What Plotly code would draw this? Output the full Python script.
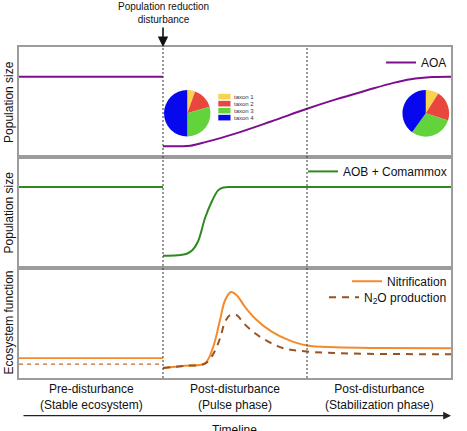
import plotly.graph_objects as go
from plotly.subplots import make_subplots

# phase boundaries on the timeline (0..3)
phase_edges = [1, 2]
phase_labels = [
    "Pre-disturbance<br>(Stable ecosystem)",
    "Post-disturbance<br>(Pulse phase)",
    "Post-disturbance<br>(Stabilization phase)",
]
phase_centers = [0.5, 1.5, 2.5]

# AOA population (top panel)
aoa_pre_x = [0, 1]
aoa_pre_y = [0.73, 0.73]
aoa_post_x = [1, 1.12, 1.19, 1.3, 1.49, 1.75, 2.0, 2.2, 2.41, 2.6, 2.72, 2.87, 3]
aoa_post_y = [0.1, 0.1, 0.105, 0.14, 0.21, 0.325, 0.44, 0.525, 0.605, 0.675, 0.708, 0.727, 0.73]

# AOB + comammox population (middle panel)
aob_pre_x = [0, 1]
aob_pre_y = [0.73, 0.73]
aob_post_x = [1, 1.1, 1.165, 1.205, 1.243, 1.292, 1.338, 1.384, 1.419, 1.45, 1.6, 3]
aob_post_y = [0.108, 0.112, 0.126, 0.16, 0.237, 0.45, 0.597, 0.703, 0.727, 0.73, 0.73, 0.73]

# ecosystem function (bottom panel)
nit_pre_x = [0, 1]
nit_pre_y = [0.18, 0.18]
nit_post_x = [1, 1.15, 1.292, 1.349, 1.396, 1.431, 1.472, 1.512, 1.569, 1.639, 1.755, 1.87, 2.0, 2.2, 2.5, 3]
nit_post_y = [0.09, 0.11, 0.135, 0.285, 0.525, 0.705, 0.78, 0.75, 0.645, 0.54, 0.42, 0.345, 0.294, 0.278, 0.272, 0.27]

n2o_pre_x = [0, 1]
n2o_pre_y = [0.126, 0.126]
n2o_post_x = [1, 1.15, 1.292, 1.35, 1.396, 1.431, 1.465, 1.512, 1.558, 1.639, 1.731, 1.836, 2.0, 2.3, 3]
n2o_post_y = [0.09, 0.11, 0.13, 0.22, 0.36, 0.51, 0.57, 0.57, 0.5, 0.405, 0.33, 0.27, 0.24, 0.222, 0.216]

# community composition pies
taxa = ["taxon 1", "taxon 2", "taxon 3", "taxon 4"]
pulse_share = [5.5, 15, 29.5, 50]
stable_share = [9, 21, 30, 40]
taxa_colors = ["#f7d34e", "#e9473d", "#63d33c", "#0808ef"]

FONT = "Liberation Sans, Arial, sans-serif"
W, H = 467, 431
# plot area in pixels
PL, PR, PT, PB = 19, 451, 47, 378.3
L, R, T, B = PL, W - PR, PT, H - PB

def px_x(p):
    return (p - PL) / (PR - PL)

def px_y(p):
    return (PB - p) / (PB - PT)

fig = make_subplots(rows=3, cols=1, shared_xaxes=True, vertical_spacing=0)

purple = "#7d0f8e"
green = "#2e8a1f"
orange = "#f38b2c"
brown = "#9a5221"

fig.add_trace(go.Scatter(x=aoa_pre_x, y=aoa_pre_y, mode="lines", line=dict(color=purple, width=2),
                         showlegend=False), row=1, col=1)
fig.add_trace(go.Scatter(x=aoa_post_x, y=aoa_post_y, mode="lines", name="AOA",
                         line=dict(color=purple, width=2, shape="spline"), legend="legend"), row=1, col=1)

fig.add_trace(go.Scatter(x=aob_pre_x, y=aob_pre_y, mode="lines", line=dict(color=green, width=2),
                         showlegend=False), row=2, col=1)
fig.add_trace(go.Scatter(x=aob_post_x, y=aob_post_y, mode="lines", name="AOB + Comammox",
                         line=dict(color=green, width=2, shape="spline"), legend="legend2"), row=2, col=1)

fig.add_trace(go.Scatter(x=nit_pre_x, y=nit_pre_y, mode="lines", line=dict(color=orange, width=1.6),
                         showlegend=False), row=3, col=1)
fig.add_trace(go.Scatter(x=n2o_pre_x, y=n2o_pre_y, mode="lines",
                         line=dict(color="#c66f2a", width=1.2, dash="4px,4px"),
                         showlegend=False), row=3, col=1)
fig.add_trace(go.Scatter(x=nit_post_x, y=nit_post_y, mode="lines", name="Nitrification",
                         line=dict(color=orange, width=2, shape="spline"), legend="legend3"), row=3, col=1)
fig.add_trace(go.Scatter(x=n2o_post_x, y=n2o_post_y, mode="lines", name="N<sub>2</sub>O production",
                         line=dict(color=brown, width=2, dash="7px,6px", shape="spline"),
                         legend="legend4"), row=3, col=1)

# pies
fig.add_trace(go.Pie(labels=taxa, values=pulse_share, sort=False, direction="clockwise", rotation=0,
                     marker=dict(colors=taxa_colors), textinfo="none", hoverinfo="label+percent",
                     showlegend=False,
                     domain=dict(x=[px_x(164), px_x(210.5)], y=[px_y(136.7), px_y(90)])))
fig.add_trace(go.Pie(labels=taxa, values=stable_share, sort=False, direction="clockwise", rotation=0,
                     marker=dict(colors=taxa_colors), textinfo="none", hoverinfo="label+percent",
                     showlegend=False,
                     domain=dict(x=[px_x(402.3), px_x(449.3)], y=[px_y(136.7), px_y(90)])))

shapes = []
annotations = []

# small taxon legend next to the first pie
for i, (name, col) in enumerate(zip(taxa, taxa_colors)):
    yc = 96.7 + i * 7
    shapes.append(dict(type="rect", xref="paper", yref="paper",
                       x0=px_x(218.3), x1=px_x(230.5), y0=px_y(yc + 2.8), y1=px_y(yc - 2.8),
                       fillcolor=col, line=dict(width=0)))
    annotations.append(dict(text=name, xref="paper", yref="paper", x=px_x(232), y=px_y(yc),
                            xanchor="left", yanchor="middle", showarrow=False,
                            font=dict(size=6, color="#333")))

# dashed phase boundaries
for xe in phase_edges:
    shapes.append(dict(type="line", xref="x", yref="paper", x0=xe, x1=xe, y0=0, y1=1,
                       line=dict(color="#333", width=1, dash="2px,2px")))

# y-axis labels
for yc, txt in [(102, "Population size"), (212.6, "Population size"), (322.8, "Ecosystem function")]:
    annotations.append(dict(text=txt, xref="paper", yref="paper", x=px_x(9), y=px_y(yc),
                            xanchor="center", yanchor="middle", textangle=-90, showarrow=False,
                            font=dict(size=12, color="#111")))

# phase labels under the panels
for xc, txt in zip(phase_centers, phase_labels):
    annotations.append(dict(text=txt, xref="x3", yref="paper", x=xc, y=px_y(397.5),
                            xanchor="center", yanchor="middle", showarrow=False,
                            font=dict(size=12, color="#111")))

# disturbance arrow + label
annotations.append(dict(text="", xref="x", yref="paper", x=1, y=px_y(47),
                        ax=0, ay=-21, showarrow=True, arrowhead=2, arrowsize=1.3,
                        arrowwidth=1.6, arrowcolor="#111"))
annotations.append(dict(text="Population reduction<br>disturbance", xref="x", yref="paper",
                        x=1, y=px_y(13), xanchor="center", yanchor="middle", showarrow=False,
                        font=dict(size=10, color="#111")))

# timeline arrow
annotations.append(dict(text="", xref="paper", yref="paper", x=px_x(451), y=px_y(416),
                        ax=-429, ay=0, showarrow=True, arrowhead=2, arrowsize=1.3,
                        arrowwidth=1.2, arrowcolor="#222"))
annotations.append(dict(text="Timeline", xref="paper", yref="paper", x=px_x(234), y=px_y(430),
                        xanchor="center", yanchor="middle", showarrow=False,
                        font=dict(size=12, color="#111")))

axis_style = dict(showline=True, mirror=True, linecolor="#9c9c9c", linewidth=1.5,
                  showgrid=False, zeroline=False, ticks="", showticklabels=False, fixedrange=True)
for i in range(1, 4):
    fig.update_xaxes(range=[0, 3], row=i, col=1, **axis_style)
    fig.update_yaxes(range=[0, 1], row=i, col=1, **axis_style)

legend_style = dict(xanchor="right", x=px_x(452), yanchor="top", bgcolor="rgba(0,0,0,0)",
                    font=dict(size=12, color="#111", family=FONT), itemwidth=30)

fig.update_layout(
    width=W, height=H,
    margin=dict(l=L, r=R, t=T, b=B),
    plot_bgcolor="white", paper_bgcolor="white",
    font=dict(family=FONT, size=12, color="#111"),
    shapes=shapes, annotations=annotations,
    legend=dict(y=px_y(48), **legend_style),
    legend2=dict(y=px_y(157), **legend_style),
    legend3=dict(y=px_y(267), **legend_style),
    legend4=dict(y=px_y(283), **legend_style),
)

# drop the browser's default 8px body margin so the figure fills the window
fig.write_html("out.html", config={"displayModeBar": False},
               post_script="document.body.style.margin = '0px';")
